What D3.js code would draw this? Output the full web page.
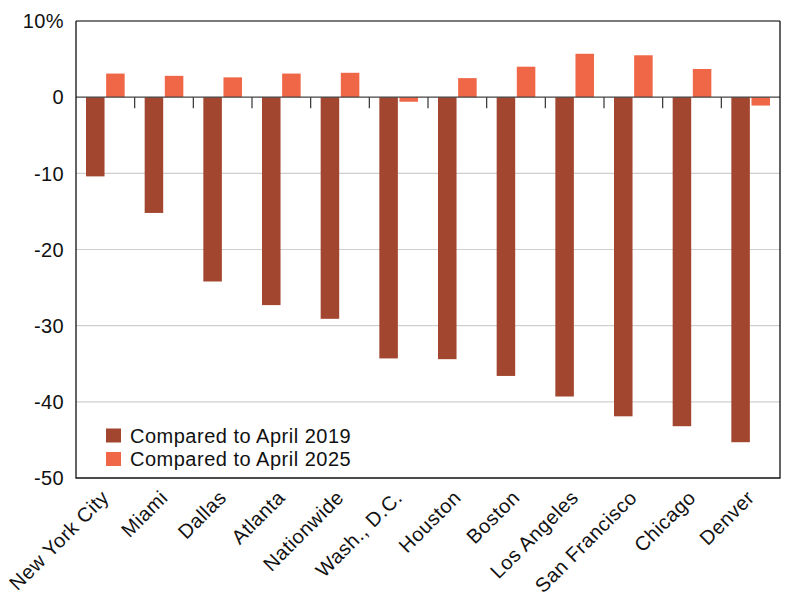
<!DOCTYPE html>
<html>
<head>
<meta charset="utf-8">
<script src="https://cdn.jsdelivr.net/npm/d3@7"></script>
<style>
  body { margin: 0; background: #fff; }
  text { font-family: Helvetica, "Liberation Sans", Arial, sans-serif; fill: #111; }
</style>
</head>
<body>
<div id="chart"></div>
<script>
// data
var cities = ["New York City", "Miami", "Dallas", "Atlanta", "Nationwide", "Wash., D.C.",
  "Houston", "Boston", "Los Angeles", "San Francisco", "Chicago", "Denver"];
var vs2019 = [-10.4, -15.2, -24.2, -27.3, -29.1, -34.3, -34.4, -36.6, -39.3, -41.9, -43.2, -45.3];
var vs2025 = [3.1, 2.8, 2.6, 3.1, 3.2, -0.6, 2.5, 4.0, 5.7, 5.5, 3.7, -1.1];
var seriesNames = ["Compared to April 2019", "Compared to April 2025"];
var yTicks = [10, 0, -10, -20, -30, -40, -50];
var colors = ["#a2462f", "#ef6747"];

var margin = { top: 21, right: 20, bottom: 122, left: 76 },
  width = 800 - margin.left - margin.right,
  height = 600 - margin.top - margin.bottom;

var svg = d3.select("#chart")
  .append("svg")
  .attr("width", 800)
  .attr("height", 600)
  .append("g")
  .attr("transform", "translate(" + margin.left + "," + margin.top + ")");

var x = d3.scaleBand().domain(cities).range([0, width]);
var xs = d3.scaleBand().domain([0, 1])
  .range([10, x.bandwidth() - 10])
  .paddingInner(0.08);
var y = d3.scaleLinear().domain([-50, 10]).range([height, 0]);

// gridlines
svg.append("g")
  .selectAll("line")
  .data([-10, -20, -30, -40])
  .enter().append("line")
  .attr("x1", 0)
  .attr("x2", width)
  .attr("y1", function(d) { return y(d); })
  .attr("y2", function(d) { return y(d); })
  .attr("stroke", "#cfcfcf")
  .attr("stroke-width", 1.2);

// bars
var rows = cities.map(function(c, i) { return { city: c, vals: [vs2019[i], vs2025[i]] }; });

var group = svg.selectAll(".city")
  .data(rows)
  .enter().append("g")
  .attr("class", "city")
  .attr("transform", function(d) { return "translate(" + x(d.city) + ",0)"; });

group.selectAll("rect")
  .data(function(d) { return d.vals.map(function(v, k) { return { k: k, v: v }; }); })
  .enter().append("rect")
  .attr("x", function(d) { return xs(d.k); })
  .attr("width", xs.bandwidth())
  .attr("y", function(d) { return y(Math.max(0, d.v)); })
  .attr("height", function(d) { return Math.abs(y(d.v) - y(0)); })
  .attr("fill", function(d) { return colors[d.k]; });

// zero line with category ticks
svg.append("line")
  .attr("x1", 0).attr("x2", width)
  .attr("y1", y(0)).attr("y2", y(0))
  .attr("stroke", "#444")
  .attr("stroke-width", 1.2);

svg.append("g")
  .selectAll("line")
  .data(cities.slice(1))
  .enter().append("line")
  .attr("x1", function(d) { return x(d); })
  .attr("x2", function(d) { return x(d); })
  .attr("y1", y(0))
  .attr("y2", y(0) + 11)
  .attr("stroke", "#333")
  .attr("stroke-width", 1.2);

// frame
svg.append("line")
  .attr("x1", 0).attr("x2", width).attr("y1", 0).attr("y2", 0)
  .attr("stroke", "#7a7a7a").attr("stroke-width", 2);
svg.append("path")
  .attr("d", "M0,0V" + height + "H" + width + "V0")
  .attr("fill", "none")
  .attr("stroke", "#111")
  .attr("stroke-width", 1.3);

// y labels
svg.append("g")
  .selectAll("text")
  .data(yTicks)
  .enter().append("text")
  .attr("x", -12)
  .attr("y", function(d) { return y(d); })
  .attr("dy", "0.36em")
  .attr("text-anchor", "end")
  .style("font-size", "20px")
  .style("letter-spacing", "0.4px")
  .text(function(d) { return d === 10 ? "10%" : d; });

// x labels
svg.append("g")
  .selectAll("text")
  .data(cities)
  .enter().append("text")
  .attr("text-anchor", "end")
  .style("font-size", "20px")
  .style("letter-spacing", "0.5px")
  .attr("transform", function(d) {
    return "translate(" + (x(d) + x.bandwidth() / 2 - 5) + "," + (height + 11) + ")rotate(-45)";
  })
  .attr("dy", "0.7em")
  .text(function(d) { return d; });

// legend
var legend = svg.append("g")
  .attr("transform", "translate(30," + (y(-43.5)) + ")");

var item = legend.selectAll("g")
  .data(seriesNames)
  .enter().append("g")
  .attr("transform", function(d, i) { return "translate(0," + (i * 23.5) + ")"; });

item.append("rect")
  .attr("width", 15)
  .attr("height", 14)
  .attr("fill", function(d, i) { return colors[i]; });

item.append("text")
  .attr("x", 24)
  .attr("y", 7)
  .attr("dy", "0.36em")
  .style("font-size", "20px")
  .style("letter-spacing", "0.5px")
  .text(function(d) { return d; });
</script>
</body>
</html>
